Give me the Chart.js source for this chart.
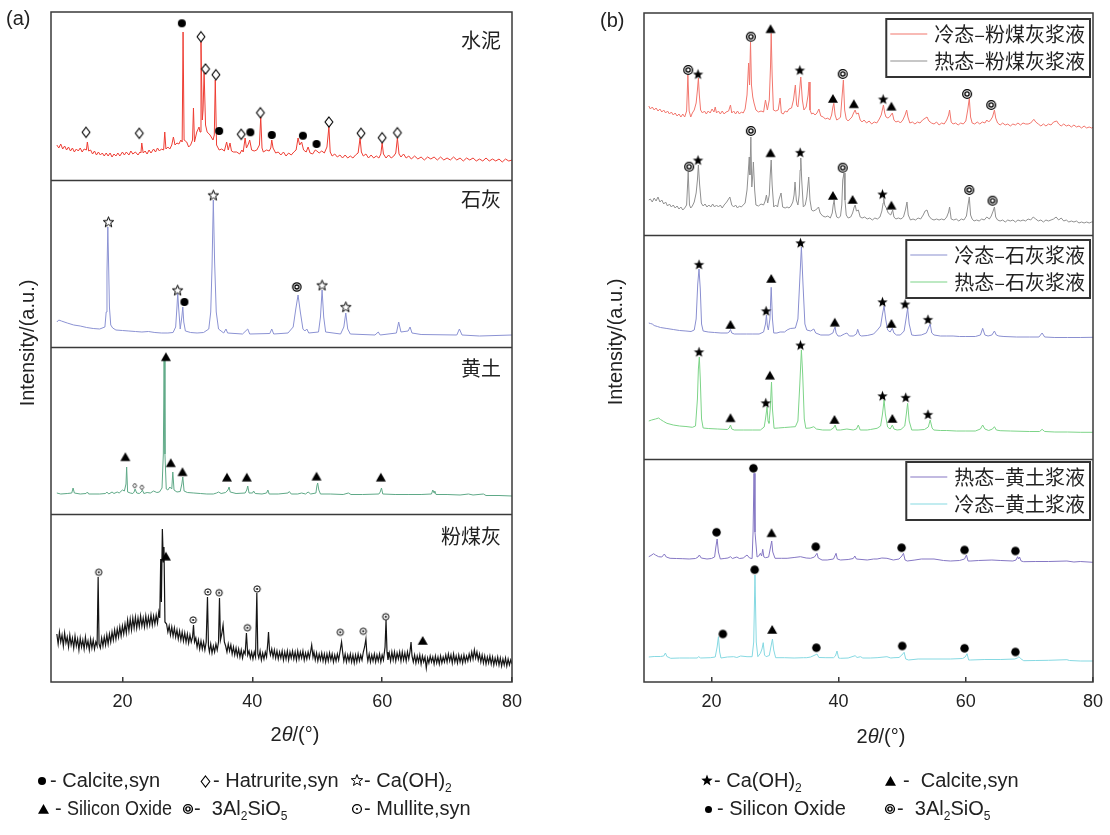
<!DOCTYPE html>
<html>
<head>
<meta charset="utf-8">
<script src="https://cdn.jsdelivr.net/npm/chart.js@4.4.0/dist/chart.umd.min.js"></script>
<style>
  body { margin: 0; width: 1110px; height: 835px; position: relative; background: #fff; overflow: hidden;
         font-family: "Liberation Sans", Arial, sans-serif; color: #222; }
  canvas { position: absolute; top: 0; }
  .t { position: absolute; white-space: nowrap; font-size: 20px; line-height: 20px; }
  .ytitle { position: absolute; white-space: nowrap; font-size: 20px; transform: translate(-50%, -50%) rotate(-90deg); }
  .xtitle { position: absolute; white-space: nowrap; font-size: 20px; transform: translate(-50%, -50%); }
  sub { font-size: 12px; vertical-align: -5px; line-height: 0; }
</style>
</head>
<body>
<canvas id="chartA" width="560" height="835" style="left:0"></canvas>
<canvas id="chartB" width="550" height="835" style="left:560px"></canvas>

<div class="t" style="left:6px;top:8px">(a)</div>
<div class="t" style="left:600px;top:10px">(b)</div>
<div class="ytitle" style="left:27px;top:343px">Intensity/(a.u.)</div>
<div class="ytitle" style="left:615px;top:342px">Intensity/(a.u.)</div>
<div class="xtitle" style="left:295px;top:734px">2<i>θ</i>/(°)</div>
<div class="xtitle" style="left:881px;top:736px">2<i>θ</i>/(°)</div>

<div class="t" style="left:50px;top:770px">- Calcite,syn</div>
<div class="t" style="left:213px;top:770px">- Hatrurite,syn</div>
<div class="t" style="left:364px;top:770px">- Ca(OH)<sub>2</sub></div>
<div class="t" style="left:55px;top:798px">- <span style="display:inline-block;transform:scaleX(0.9);transform-origin:left">Silicon Oxide</span></div>
<div class="t" style="left:194px;top:798px">-&nbsp; 3Al<sub>2</sub>SiO<sub>5</sub></div>
<div class="t" style="left:364px;top:798px">- Mullite,syn</div>

<div class="t" style="left:714px;top:770px">- Ca(OH)<sub>2</sub></div>
<div class="t" style="left:903px;top:770px">-&nbsp; Calcite,syn</div>
<div class="t" style="left:717px;top:798px">- Silicon Oxide</div>
<div class="t" style="left:897px;top:798px">-&nbsp; 3Al<sub>2</sub>SiO<sub>5</sub></div>

<script>
// ---- x axis ticks (2θ, degrees)
const xTicks = [20, 40, 60, 80];

// ---- panel (a): XRD patterns of raw materials, [2θ, intensity a.u.]
const cement = [[9.9,35],[10.2,32],[10.5,36],[10.8,31],[11.1,34],[11.4,30],[11.7,33],[12.0,29],[12.3,32],[12.6,28],[12.9,31],[13.2,29],[13.5,32],[13.8,28],[14.1,31],[14.45,30],[14.6,38],[14.8,29],[15.1,30],[15.4,26],[15.7,29],[16.0,25],[16.3,28],[16.6,25],[16.9,27],[17.2,24],[17.5,27],[17.8,24],[18.1,27],[18.4,23],[18.7,26],[19.0,24],[19.3,27],[19.6,24],[20.0,28],[20.3,25],[20.6,28],[21.0,25],[21.3,29],[21.6,26],[22.0,28],[22.4,25],[22.7,28],[22.85,27],[22.98,37],[23.2,27],[23.5,29],[23.8,26],[24.1,30],[24.4,27],[24.8,31],[25.1,28],[25.4,32],[25.7,29],[26.0,31],[26.35,30],[26.52,48],[26.7,31],[27.0,33],[27.3,31],[27.6,35],[27.85,43],[28.1,35],[28.4,37],[28.7,36],[29.0,40],[29.2,38],[29.34,148],[29.5,40],[29.9,38],[30.2,33],[30.5,35],[30.8,40],[30.94,72],[31.1,38],[31.45,48],[31.8,53],[31.95,48],[32.1,138],[32.3,60],[32.42,70],[32.58,108],[32.8,55],[33.05,48],[33.5,45],[33.95,40],[34.15,45],[34.3,100],[34.5,35],[34.9,30],[35.3,31],[35.7,29],[36.05,38],[36.3,30],[36.57,37],[36.8,29],[37.1,28],[37.6,28],[38.05,26],[38.4,30],[38.6,28],[38.9,42],[39.1,32],[39.4,36],[39.6,40],[39.9,30],[40.3,29],[40.7,30],[41.1,35],[41.3,63],[41.5,32],[41.7,28],[42.2,30],[42.6,29],[42.85,32],[43.0,40],[43.2,32],[43.6,27],[44.0,28],[44.4,25],[44.8,28],[45.2,24],[45.6,27],[46.0,25],[46.4,28],[46.75,30],[47.05,42],[47.3,35],[47.6,38],[47.9,30],[48.3,28],[48.6,33],[48.9,27],[49.3,26],[49.7,30],[49.95,29],[50.3,27],[50.7,29],[51.1,27],[51.5,33],[51.8,53],[52.0,28],[52.3,24],[52.7,26],[53.1,23],[53.5,25],[53.9,22],[54.3,25],[54.7,22],[55.1,24],[55.5,22],[55.9,25],[56.3,27],[56.6,42],[56.8,28],[57.1,24],[57.5,26],[57.9,22],[58.3,25],[58.7,22],[59.1,24],[59.5,22],[59.8,26],[60.0,37],[60.2,26],[60.6,22],[61.0,25],[61.4,22],[61.8,24],[62.1,27],[62.35,42],[62.6,26],[62.9,23],[63.3,26],[63.7,22],[64.1,24],[64.5,21],[65.0,24],[65.5,21],[66.0,23],[66.5,20],[67.0,23],[67.5,21],[68.0,23],[68.5,20],[69.0,23],[69.5,20],[70.0,22],[70.5,20],[71.0,23],[71.5,20],[72.0,22],[72.5,19],[73.0,22],[73.5,20],[74.0,22],[74.5,19],[75.0,21],[75.5,19],[76.0,22],[76.5,19],[77.0,21],[77.5,19],[78.0,21],[78.5,18],[79.0,21],[79.5,19],[80.0,20]];

const lime = [[9.9,25],[10.2,27],[10.6,26],[11.5,24],[12.5,22],[13.5,21],[14.5,19.5],[15.5,18.5],[16.5,18],[17.3,20],[17.5,35],[17.62,75],[17.75,120],[17.88,80],[18.0,40],[18.2,22],[18.5,19],[19.0,17],[20.0,16.5],[21.0,16],[22.0,15.5],[23.0,15],[24.0,15.5],[25.0,14.5],[26.0,14],[27.0,14],[27.8,14.5],[28.2,20],[28.4,40],[28.52,54],[28.65,40],[28.9,18],[29.15,30],[29.3,40],[29.45,25],[29.7,16],[30.5,14.5],[31.5,14],[32.5,14.5],[33.3,18],[33.6,35],[33.8,80],[34.0,147],[34.2,85],[34.45,35],[34.8,18],[35.6,14],[35.95,18],[36.2,14],[38.5,13],[39.3,18],[39.6,13],[42.7,13.5],[43.0,18],[43.3,13],[45.5,14],[46.3,20],[46.7,38],[47.05,52],[47.4,35],[47.8,18],[48.1,16],[48.4,18],[48.7,14],[50.2,15],[50.5,30],[50.75,57],[51.0,30],[51.3,15],[53.6,13],[54.1,20],[54.4,34],[54.7,18],[55.1,13],[58.9,12],[59.4,15],[59.7,12],[62.2,14],[62.55,25],[62.9,15],[64.0,16],[64.3,20],[64.6,14],[66.0,12.5],[71.5,12],[71.9,18],[72.3,12],[75.0,11],[80.0,12]];

const loess = [[9.9,21],[10.5,20],[11.5,20.5],[12.2,21],[12.4,26],[12.6,21],[13.5,20],[14.4,20.5],[14.6,22],[14.8,20],[16.5,20],[17.4,20.5],[17.6,22],[17.9,20],[18.4,22],[18.7,20.5],[19.2,22],[19.5,21],[20.0,24],[20.3,23],[20.55,30],[20.65,47],[20.8,22],[21.2,21],[21.6,20.5],[21.8,22],[21.95,25],[22.2,21],[22.6,20.5],[22.9,22],[23.08,24],[23.3,20.5],[23.8,21.5],[24.3,21],[24.8,23],[25.3,21.5],[25.7,22],[26.1,26],[26.3,60],[26.42,154],[26.55,60],[26.75,25],[27.0,24],[27.3,27],[27.6,25],[27.76,42],[27.95,24],[28.4,22],[28.9,22.5],[29.15,30],[29.3,37],[29.5,23],[30.0,21.5],[31.0,21],[32.0,20.5],[33.0,20],[34.0,20],[34.5,21],[34.8,22],[35.2,20.5],[35.9,21.5],[36.25,24],[36.43,27],[36.6,22],[37.5,20.5],[38.9,21],[39.15,24],[39.3,28],[39.5,21],[40.05,21],[40.2,23],[40.45,20.5],[41.5,20],[42.2,21],[42.4,24],[42.6,20],[44.0,20],[45.5,21],[45.7,22.5],[46.0,20],[47.0,20],[47.6,21],[48.2,20],[48.6,22],[49.0,20],[49.8,21],[49.95,28],[50.07,31],[50.25,24],[50.5,20],[52.0,20],[54.0,19.5],[54.8,21],[55.2,19.5],[57.0,19.5],[59.5,20],[59.7,22],[59.9,26],[60.1,20],[62.0,19.5],[64.0,19.5],[66.0,19.5],[67.6,20],[67.8,24],[68.0,21],[68.1,23],[68.3,19.5],[70.0,19.5],[72.0,19],[73.3,20],[74.0,19],[75.6,20],[76.0,18.5],[78.0,18.5],[80.0,18]];

const flyAsh = [[9.9,48],[10.1,38],[10.3,50],[10.5,40],[10.7,47],[10.9,36],[11.1,49],[11.3,39],[11.5,45],[11.7,35],[11.9,47],[12.1,37],[12.3,44],[12.5,34],[12.7,46],[12.9,36],[13.1,43],[13.3,32],[13.5,44],[13.7,35],[13.9,42],[14.1,33],[14.3,45],[14.5,35],[14.7,41],[14.9,32],[15.1,43],[15.3,34],[15.5,42],[15.7,33],[15.9,40],[16.1,36],[16.26,105],[16.4,38],[16.6,34],[16.8,44],[17.0,36],[17.2,45],[17.4,37],[17.6,47],[17.8,38],[18.0,48],[18.2,40],[18.4,50],[18.6,42],[18.8,52],[19.0,43],[19.2,53],[19.4,45],[19.6,55],[19.8,46],[20.0,56],[20.2,48],[20.4,58],[20.6,49],[20.8,62],[21.0,51],[21.2,63],[21.4,52],[21.6,64],[21.8,54],[22.0,65],[22.2,54],[22.4,64],[22.6,55],[22.8,66],[23.0,56],[23.2,64],[23.4,55],[23.6,66],[23.8,56],[24.0,65],[24.2,57],[24.4,67],[24.6,57],[24.8,66],[25.0,58],[25.2,67],[25.4,59],[25.6,70],[25.75,64],[25.9,123],[26.0,80],[26.15,153],[26.3,120],[26.4,135],[26.55,60],[26.8,58],[27.0,50],[27.2,56],[27.4,47],[27.6,55],[27.8,46],[28.0,54],[28.2,45],[28.4,52],[28.6,43],[28.8,51],[29.0,42],[29.2,50],[29.4,41],[29.6,49],[29.8,40],[30.0,48],[30.2,39],[30.4,47],[30.6,40],[30.8,45],[30.95,57],[31.1,40],[31.3,44],[31.5,35],[31.7,42],[31.9,33],[32.1,41],[32.3,33],[32.5,40],[32.7,32],[32.9,40],[33.1,85],[33.25,36],[33.4,30],[33.6,38],[33.8,29],[34.0,36],[34.2,30],[34.4,38],[34.6,32],[34.8,40],[34.95,84],[35.1,42],[35.3,48],[35.5,57],[35.7,40],[35.9,36],[36.1,30],[36.3,38],[36.5,31],[36.7,37],[36.9,28],[37.1,35],[37.3,27],[37.5,34],[37.7,26],[37.9,33],[38.1,25],[38.3,32],[38.5,24],[38.7,31],[38.9,28],[39.1,49],[39.3,27],[39.5,31],[39.7,24],[39.9,30],[40.1,23],[40.3,30],[40.5,25],[40.7,89],[40.85,28],[41.0,24],[41.2,31],[41.4,22],[41.6,29],[41.8,23],[42.0,30],[42.2,25],[42.4,40],[42.5,50],[42.65,32],[42.8,27],[43.0,33],[43.2,25],[43.4,32],[43.6,24],[43.8,31],[44.0,23],[44.2,30],[44.4,24],[44.6,31],[44.8,22],[45.0,30],[45.2,23],[45.4,31],[45.6,22],[45.8,30],[46.0,24],[46.2,31],[46.4,23],[46.6,30],[46.8,22],[47.0,31],[47.2,23],[47.4,30],[47.6,24],[47.8,31],[48.0,22],[48.2,29],[48.4,23],[48.6,30],[48.8,24],[49.0,31],[49.15,37],[49.35,25],[49.5,30],[49.7,22],[49.9,29],[50.1,21],[50.3,28],[50.5,22],[50.7,29],[50.9,21],[51.1,28],[51.3,20],[51.5,28],[51.7,21],[51.9,29],[52.1,22],[52.3,28],[52.5,20],[52.7,27],[52.9,21],[53.1,28],[53.3,22],[53.5,30],[53.75,40],[53.95,28],[54.1,21],[54.3,28],[54.5,20],[54.7,27],[54.9,21],[55.1,28],[55.3,20],[55.5,27],[55.7,19],[55.9,27],[56.1,20],[56.3,28],[56.5,21],[56.7,27],[56.9,22],[57.1,30],[57.3,35],[57.5,43],[57.65,28],[57.8,21],[58.0,28],[58.2,20],[58.4,27],[58.6,21],[58.8,28],[59.0,20],[59.2,27],[59.4,21],[59.6,28],[59.8,20],[60.0,27],[60.2,22],[60.45,35],[60.6,62],[60.75,30],[60.9,22],[61.1,29],[61.3,21],[61.5,30],[61.7,22],[61.9,30],[62.1,21],[62.3,29],[62.5,23],[62.7,30],[62.9,21],[63.1,30],[63.3,22],[63.5,29],[63.7,21],[63.9,30],[64.1,23],[64.3,31],[64.45,40],[64.6,26],[64.8,20],[65.0,27],[65.2,19],[65.4,26],[65.6,20],[65.8,27],[66.0,18],[66.2,26],[66.4,20],[66.6,25],[66.8,14],[67.0,24],[67.2,19],[67.4,26],[67.6,20],[67.8,25],[68.0,18],[68.2,26],[68.4,19],[68.6,25],[68.8,18],[69.0,26],[69.2,19],[69.4,25],[69.6,20],[69.8,27],[70.0,20],[70.2,28],[70.4,21],[70.6,27],[70.8,19],[71.0,28],[71.2,20],[71.4,26],[71.6,19],[71.8,27],[72.0,20],[72.2,26],[72.4,19],[72.6,27],[72.8,20],[73.0,26],[73.2,21],[73.4,28],[73.6,22],[73.8,30],[74.0,23],[74.2,32],[74.4,24],[74.6,30],[74.8,22],[75.0,28],[75.2,20],[75.4,27],[75.6,19],[75.8,26],[76.0,18],[76.2,25],[76.4,19],[76.6,26],[76.8,18],[77.0,25],[77.2,17],[77.4,24],[77.6,18],[77.8,25],[78.0,17],[78.2,24],[78.4,16],[78.6,23],[78.8,17],[79.0,24],[79.2,16],[79.4,23],[79.6,17],[79.8,22],[80.0,18]];

// ---- panel (a): phase marks, [2θ, intensity a.u.]
const cementCalcite = [[29.15,156.7],[34.9,49],[39.7,47.7],[43.0,45],[47.8,44.3],[49.9,36]];
const cementHatrurite = [[14.4,47.7],[22.6,46.7],[32.1,143.3],[32.8,111],[34.4,105.3],[38.3,45.7],[41.25,67.3],[51.8,58],[56.75,46.7],[60.0,42.3],[62.35,47.3]];
const limeCaOH = [[17.85,125.3],[28.5,57],[34.0,152],[50.75,62],[54.4,40.3]];
const limeCalcite = [[29.55,45]];
const limeAl2SiO5 = [[46.85,60]];
const loessSiO2 = [[20.45,56.7],[26.7,156.7],[27.45,50.7],[29.25,41.7],[36.1,36.3],[39.15,36.3],[49.9,37.3],[59.8,36.3]];
const loessHatrurite = [[21.9,28.3],[23.0,26.7]];
const flyAshMullite = [[16.35,109.7],[30.9,62],[33.15,90],[34.9,89.3],[39.25,54.3],[40.75,93],[53.55,49.7],[57.1,50.7],[60.55,65.3]];
const flyAshSiO2 = [[26.7,125.3],[66.25,41]];

// ---- panel (b): slurry patterns, [2θ, intensity a.u.]
const coldFlyAsh = [[10.15,129],[10.4,126],[10.7,128],[11.0,125],[11.3,127],[11.6,124],[11.9,126],[12.2,123],[12.5,125],[12.8,122],[13.1,124],[13.4,121],[13.7,123],[14.0,120],[14.3,122],[14.6,119],[14.9,121],[15.2,118],[15.5,121],[15.8,118],[16.1,124],[16.3,160],[16.5,124],[16.75,118],[17.0,122],[17.3,125],[17.6,132],[17.8,145],[17.95,157],[18.1,140],[18.3,125],[18.6,122],[18.9,124],[19.2,121],[19.5,124],[19.8,122],[20.1,126],[20.4,123],[20.6,128],[20.8,122],[21.1,124],[21.4,121],[21.7,124],[22.0,121],[22.3,123],[22.7,124],[23.0,130],[23.2,122],[23.5,124],[23.8,121],[24.1,124],[24.4,121],[24.7,123],[25.0,122],[25.3,126],[25.6,140],[25.85,172],[26.0,150],[26.15,193],[26.3,150],[26.5,138],[26.7,132],[27.0,125],[27.4,123],[27.8,124],[28.2,123],[28.5,135],[28.8,125],[29.1,135],[29.3,170],[29.4,201.7],[29.55,160],[29.75,125],[30.1,124],[30.5,125],[30.8,137],[31.0,122],[31.3,121],[31.6,124],[31.9,123],[32.2,126],[32.6,127],[32.9,135],[33.2,150],[33.4,130],[33.6,128],[33.8,140],[34.05,158],[34.3,135],[34.55,125],[34.9,128],[35.2,140],[35.35,153],[35.5,125],[35.75,121],[36.0,122],[36.3,120],[36.6,122],[36.9,126],[37.2,119],[37.6,118],[37.9,116],[38.3,117],[38.6,115],[38.9,120],[39.1,128],[39.25,131.7],[39.45,120],[39.7,115],[40.0,116],[40.3,118],[40.5,135],[40.75,155],[40.95,125],[41.2,116],[41.5,114],[41.8,116],[42.1,118],[42.35,122],[42.6,125],[42.8,121],[43.1,122],[43.4,115],[43.7,113],[44.0,115],[44.4,112],[44.8,114],[45.2,111],[45.6,113],[46.0,112],[46.4,116],[46.7,120],[47.05,130],[47.25,122],[47.45,118],[47.75,117],[48.0,118],[48.45,122],[48.7,115],[49.0,113],[49.4,114],[49.7,112],[50.1,115],[50.45,120],[50.7,125],[50.9,118],[51.2,112],[51.6,113],[52.0,111],[52.4,113],[52.8,112],[53.2,115],[53.9,118],[54.2,114],[54.6,112],[55.0,111],[55.4,113],[55.8,110],[56.2,112],[56.6,111],[57.0,115],[57.3,120],[57.45,125],[57.7,113],[58.0,111],[58.4,112],[58.8,110],[59.2,112],[59.6,111],[60.0,114],[60.3,125],[60.55,136.7],[60.75,118],[61.0,112],[61.4,111],[61.8,113],[62.2,111],[62.6,113],[63.0,112],[63.3,115],[63.6,113],[63.9,115],[64.2,118],[64.5,125],[64.7,117],[65.0,112],[65.4,110],[65.8,112],[66.2,110],[66.6,111],[67.0,109],[67.4,111],[67.8,110],[68.2,112],[68.6,110],[69.0,112],[69.4,111],[69.8,111],[70.2,112],[70.7,115.7],[71.0,113],[71.4,111],[71.8,109],[72.2,111],[72.6,109],[73.0,111],[73.4,110],[73.8,113],[74.3,114],[74.6,111],[75.0,109],[75.4,111],[75.8,109],[76.2,110],[76.6,108],[77.0,110],[77.4,108],[77.8,109],[78.2,107],[78.6,109],[79.0,107],[79.4,108],[79.8,107],[80.0,107.7]];

const hotFlyAsh = [[10.15,35],[10.4,36],[10.7,33],[11.0,37],[11.3,34],[11.6,38],[11.9,33],[12.2,35],[12.5,31],[12.8,33],[13.1,29],[13.4,31],[13.7,28],[14.0,30],[14.3,27],[14.6,29],[14.9,26],[15.2,28],[15.5,25],[15.8,27],[16.1,30],[16.35,63],[16.55,30],[16.75,27],[17.0,29],[17.3,33],[17.6,42],[17.8,55],[17.95,70],[18.15,50],[18.4,32],[18.7,29],[19.0,31],[19.3,28],[19.6,30],[19.9,28],[20.2,31],[20.5,28],[20.8,30],[21.1,28],[21.4,30],[21.7,27],[22.0,30],[22.4,33],[22.9,38],[23.2,30],[23.5,28],[23.8,30],[24.1,27],[24.4,29],[24.7,28],[25.0,30],[25.3,32],[25.6,45],[25.95,78],[26.05,60],[26.2,98],[26.35,48],[26.5,60],[26.6,73],[26.8,45],[27.0,30],[27.4,29],[27.8,31],[28.2,30],[28.45,34],[28.65,40],[28.85,32],[29.1,40],[29.25,60],[29.4,75],[29.55,50],[29.8,28],[30.1,30],[30.4,28],[30.6,35],[30.95,42],[31.2,28],[31.6,27],[31.9,28],[32.2,27],[32.5,29],[32.8,33],[33.0,40],[33.15,53],[33.35,35],[33.6,30],[33.8,40],[33.95,65],[34.05,77],[34.2,55],[34.45,28],[34.75,30],[35.0,38],[35.3,58],[35.5,35],[35.75,25],[36.0,24],[36.4,25],[36.85,28],[37.1,22],[37.5,19],[37.9,18],[38.3,19],[38.7,17],[39.0,22],[39.15,30],[39.3,35],[39.45,25],[39.7,18],[40.0,17],[40.3,19],[40.5,30],[40.65,55],[40.85,62],[41.0,35],[41.2,20],[41.5,17],[41.9,18],[42.2,22],[42.45,28],[42.6,30],[42.8,24],[43.1,25],[43.4,18],[43.7,17],[44.1,18],[44.5,16],[44.9,17],[45.3,15],[45.7,17],[46.1,16],[46.5,18],[46.8,24],[47.0,32],[47.1,36.7],[47.25,30],[47.5,27],[47.8,22],[48.2,20],[48.5,25],[48.7,18],[49.0,16],[49.4,17],[49.8,16],[50.2,18],[50.5,25],[50.75,33],[50.95,20],[51.3,15],[51.7,16],[52.1,15],[52.5,17],[52.9,16],[53.3,20],[53.6,24],[53.9,25],[54.2,19],[54.6,16],[55.0,15],[55.4,16],[55.8,15],[56.2,16],[56.6,15],[57.0,18],[57.3,23],[57.45,28],[57.7,16],[58.1,15],[58.5,16],[58.9,14],[59.3,16],[59.7,15],[60.1,19],[60.35,30],[60.55,38],[60.75,20],[61.0,16],[61.3,14],[61.7,15],[62.1,14],[62.5,16],[62.9,15],[63.3,18],[63.7,16],[64.0,19],[64.3,24],[64.5,28],[64.7,18],[65.0,15],[65.4,14],[65.8,15],[66.2,13],[66.6,15],[67.0,14],[67.4,15],[67.8,13],[68.2,15],[68.6,14],[69.0,15],[69.4,14],[69.8,16],[70.2,15],[70.6,18],[71.0,16],[71.4,14],[71.8,15],[72.2,13],[72.6,15],[73.0,14],[73.4,15],[73.8,16],[74.2,18],[74.6,15],[75.0,17],[75.4,14],[75.8,15],[76.2,13],[76.6,14],[77.0,13],[77.4,14],[77.8,12],[78.2,13],[78.6,12],[79.0,13],[79.4,12],[79.8,13],[80.0,13]];

const coldLime = [[10.15,136],[10.4,135.5],[10.7,135],[11.0,133.5],[11.5,132.5],[12.0,131.5],[13.0,130.5],[14.0,129.5],[15.0,128.5],[16.0,128],[16.8,127.5],[17.3,129],[17.6,140],[17.85,175],[18.05,190],[18.25,170],[18.45,135],[18.7,128],[19.5,127],[20.5,126.5],[21.5,126],[22.5,126],[22.8,127],[23.0,129.5],[23.2,126],[23.6,125],[24.5,125],[25.5,125],[26.5,125],[27.5,125],[28.2,127],[28.5,135],[28.65,144],[28.8,133],[28.95,129],[29.2,140],[29.4,171.7],[29.6,140],[29.8,126],[30.3,126],[30.8,127],[31.5,127],[31.9,129],[32.4,130.5],[33.2,131],[33.6,140],[33.9,180],[34.15,212],[34.4,175],[34.7,135],[35.0,129],[35.6,128],[36.1,130],[36.4,126],[37.2,124],[38.5,124],[39.1,126],[39.3,130],[39.45,132],[39.6,126],[39.9,123],[40.3,123],[40.9,125],[41.3,126],[41.7,123],[42.3,123],[42.8,125],[43.0,129.7],[43.3,124],[43.6,123],[44.5,123.5],[45.5,125],[46.1,129],[46.6,133],[46.9,145],[47.15,153],[47.4,140],[47.7,129],[48.1,127],[48.45,130.7],[48.7,126],[49.1,124],[49.7,124],[50.3,128],[50.6,140],[50.85,150.7],[51.1,135],[51.5,124],[52.0,123.5],[53.0,124],[53.8,126],[54.4,135],[54.65,126],[55.0,124],[56.0,123],[57.0,123],[58.0,123],[59.0,122.5],[60.0,122.5],[61.5,122.5],[62.3,124],[62.65,130.7],[63.0,124],[63.5,123],[64.1,124],[64.5,128],[64.8,124],[65.2,123],[66.0,122.5],[68.0,122],[70.0,122],[71.5,122],[72.0,126],[72.4,122],[74.0,121.5],[76.0,121.5],[78.0,121.5],[80.0,121.7]];

const hotLime = [[10.15,38],[10.6,39],[11.2,40],[11.7,41],[12.0,39.5],[12.5,37.5],[13.0,35.7],[14.0,34],[15.0,33],[16.0,32.5],[17.0,31.7],[17.5,33],[17.8,60],[17.95,90],[18.1,102],[18.25,80],[18.45,40],[18.7,31],[19.5,30.5],[21.0,30],[22.5,29.5],[22.8,31],[23.0,34],[23.2,30],[23.6,29],[25.0,29],[26.5,29],[27.7,29],[28.3,32],[28.5,40],[28.75,52],[28.9,38],[29.05,35.7],[29.25,50],[29.45,77],[29.6,50],[29.85,30.7],[30.5,31],[31.5,31.5],[32.5,32],[33.2,32.3],[33.6,38],[33.9,75],[34.15,109],[34.35,85],[34.6,40],[34.85,30.7],[35.5,31],[36.1,32.3],[36.5,30],[37.5,29],[38.7,29],[39.2,31],[39.45,34],[39.7,29],[40.3,29],[41.3,30],[42.3,29],[42.8,30],[43.1,34],[43.4,29],[44.5,29],[45.0,29.5],[46.05,30.7],[46.6,33],[46.9,45],[47.15,59],[47.35,45],[47.7,32],[48.1,30],[48.45,34],[48.7,30],[49.2,29],[49.8,29.5],[50.4,33],[50.65,45],[50.85,55.7],[51.1,38],[51.5,29],[52.5,29],[53.5,29.5],[54.1,32],[54.4,39],[54.7,31],[54.96,29],[56.0,28.5],[57.0,28.5],[58.5,28],[60.0,28],[61.5,28],[62.3,30],[62.65,34],[63.0,30],[63.6,28.5],[64.2,30],[64.5,32.3],[64.8,29],[65.4,28.3],[67.0,28],[70.0,27.5],[71.6,27.5],[72.0,29.7],[72.4,27.5],[74.0,27],[76.0,27],[78.0,26.7],[80.0,26.7]];

const hotLoess = [[10.15,125.3],[10.5,126.5],[10.9,128.3],[11.2,127],[11.7,125.3],[12.2,125],[12.6,128],[12.9,125],[13.5,123.7],[14.5,123.5],[15.5,123.3],[16.5,123],[17.5,123.5],[17.9,125],[18.1,127],[18.4,124],[19.3,123],[20.0,123.5],[20.5,125],[20.7,135],[20.9,143],[21.1,130],[21.4,123],[22.0,123.5],[22.6,124],[23.0,125.3],[23.3,123.5],[24.0,125],[24.4,123.5],[25.0,124],[25.6,127],[26.0,124],[26.4,123.5],[26.55,150],[26.7,208.7],[26.85,150],[27.18,125],[27.45,126],[27.7,128.7],[27.9,126],[28.07,132.7],[28.25,125],[28.5,124.3],[29.0,125],[29.3,135],[29.48,141],[29.65,130],[30.0,123.7],[31.0,123.7],[31.9,123.7],[33.0,124.5],[34.0,125.3],[34.9,124],[35.6,123.7],[36.2,125],[36.6,128.7],[36.8,124],[37.4,122],[38.2,122],[39.2,123],[39.6,128.7],[39.8,123],[40.3,122],[41.5,122.5],[42.3,123.5],[42.55,126],[42.8,123],[44.5,122],[45.5,123],[46.05,123],[46.8,124],[47.6,123.7],[48.6,122],[49.5,123],[49.95,126],[50.2,128.7],[50.45,122],[50.8,121],[52.0,122],[53.0,123],[55.0,123],[56.5,121.5],[57.6,121],[59.0,121.5],[59.8,123],[60.1,127],[60.35,121],[60.8,121],[62.0,121.5],[64.1,122],[65.5,121.5],[67.4,121],[67.9,122],[68.15,125.3],[68.3,123],[68.45,125],[68.7,121],[69.1,120.3],[71.0,120.5],[73.0,120.5],[75.9,121],[77.0,120],[78.0,120.5],[80.0,119.7]];

const coldLoess = [[10.15,25],[11.0,25.5],[12.0,25.5],[12.5,26],[12.77,29],[13.0,25.5],[13.6,23.7],[15.0,24],[16.5,24],[17.75,24],[18.0,25.3],[18.3,24],[19.84,24.3],[20.6,25],[20.9,35],[21.1,45.3],[21.3,30],[21.5,24],[22.5,25],[23.5,25.3],[24.0,24.5],[24.6,26],[25.6,25.3],[26.4,25.3],[26.65,40],[26.85,107],[27.05,40],[27.3,25.3],[27.7,28.7],[27.95,33],[28.15,39.3],[28.35,27],[28.6,25.3],[29.1,26.5],[29.35,35],[29.6,43],[29.8,32],[30.1,24.3],[31.5,24.3],[33.0,24],[34.5,24.3],[35.0,24.3],[35.6,25],[36.3,27],[36.6,28],[36.9,24.5],[38.0,24.3],[39.2,24.3],[39.5,26],[39.75,31],[40.0,24],[40.3,23.7],[41.5,24],[42.6,26.3],[42.9,24.5],[43.45,25.3],[43.8,24],[45.0,24],[46.05,24.3],[47.6,25.3],[48.2,24],[48.7,24.3],[49.5,24.5],[49.95,27],[50.3,29.7],[50.55,23],[51.0,22],[52.5,23],[55.0,23],[57.6,23],[59.5,23.5],[59.9,25],[60.2,28.3],[60.45,22],[60.7,22],[63.0,22.5],[65.5,22.5],[67.7,23],[68.1,24],[68.37,25.3],[68.6,23.5],[69.1,21.3],[71.0,21.5],[73.0,21.7],[75.9,22.3],[76.3,21.5],[78.0,21],[80.0,21]];

// ---- panel (b): phase marks, [2θ, intensity a.u.]
const coldFlyAshAl2SiO5 = [[16.35,165],[26.2,198.3],[40.65,161],[60.2,141],[64.0,130]];
const coldFlyAshCaOH = [[17.9,161],[33.9,165],[47.0,136]];
const coldFlyAshCalcite = [[29.3,205.7],[39.1,136],[42.4,130.7],[48.3,128.3]];
const hotFlyAshAl2SiO5 = [[16.5,68.3],[26.2,104],[40.65,67.3],[60.55,45],[64.2,34.3]];
const hotFlyAshCaOH = [[17.9,75],[33.95,82.7],[46.9,41]];
const hotFlyAshCalcite = [[29.3,81.7],[39.1,39],[42.2,35],[48.3,29.3]];
const coldLimeCaOH = [[18.05,194.7],[28.6,148.3],[34.0,216.3],[46.9,157.3],[50.45,155],[54.05,139.7]];
const coldLimeCalcite = [[23.0,134],[29.4,180],[39.4,136.3],[48.3,135]];
const hotLimeCaOH = [[18.05,107.3],[28.55,56.3],[34.0,114],[46.9,63.3],[50.55,61.7],[54.05,44.7]];
const hotLimeCalcite = [[23.0,40.7],[29.2,83.3],[39.35,39],[48.45,40]];
const hotLoessSiO2 = [[20.8,149.7],[26.6,213.7],[36.4,135.3],[49.9,134.3],[59.8,132],[67.8,131]];
const hotLoessCalcite = [[29.45,148.7]];
const coldLoessSiO2 = [[21.8,48],[26.8,112.3],[36.5,34.3],[50.0,36],[59.8,33.7],[67.8,30]];
const coldLoessCalcite = [[29.55,52]];

// ---- labels
const labelsA = ['水泥', '石灰', '黄土', '粉煤灰'];
const legendB = [
  [['冷态–粉煤灰浆液', '#f2766d'], ['热态–粉煤灰浆液', '#909090']],
  [['冷态–石灰浆液', '#8a8fd0'], ['热态–石灰浆液', '#7dd488']],
  [['热态–黄土浆液', '#8577c4'], ['冷态–黄土浆液', '#86d9e2']]
];

// marker glyphs drawn once, used as point styles
function mark(kind, size, lw) {
  const n = Math.ceil(size) + 4;
  const c = document.createElement('canvas');
  c.width = c.height = n;
  const g = c.getContext('2d');
  const m = n / 2, r = size / 2;
  g.fillStyle = '#000'; g.strokeStyle = '#000'; g.lineWidth = lw || 1.2;
  g.beginPath();
  if (kind === 'dot') { g.arc(m, m, r, 0, 2 * Math.PI); g.fill(); }
  else if (kind === 'tri') { g.moveTo(m, m - r); g.lineTo(m + r, m + r * 0.75); g.lineTo(m - r, m + r * 0.75); g.closePath(); g.fill(); }
  else if (kind === 'diamond') {
    g.moveTo(m, m - r); g.lineTo(m + r * 0.78, m); g.lineTo(m, m + r); g.lineTo(m - r * 0.78, m); g.closePath();
    g.fillStyle = '#fff'; g.fill(); g.stroke();
  } else if (kind === 'star' || kind === 'openStar') {
    for (let i = 0; i < 10; i++) {
      const rr = i % 2 ? r * 0.42 : r, t = -Math.PI / 2 + i * Math.PI / 5;
      g.lineTo(m + rr * Math.cos(t), m + 0.6 + rr * Math.sin(t));
    }
    g.closePath();
    if (kind === 'star') g.fill(); else { g.fillStyle = '#fff'; g.fill(); g.stroke(); }
  } else if (kind === 'ring2') {
    g.arc(m, m, r - 0.6, 0, 2 * Math.PI); g.fillStyle = '#fff'; g.fill(); g.stroke();
    g.beginPath(); g.arc(m, m, r * 0.42, 0, 2 * Math.PI); g.stroke();
  } else if (kind === 'ringDot') {
    g.arc(m, m, r - 0.6, 0, 2 * Math.PI); g.fillStyle = '#fff'; g.fill(); g.stroke();
    g.beginPath(); g.fillStyle = '#000'; g.arc(m, m, 1, 0, 2 * Math.PI); g.fill();
  }
  return c;
}

const M = {
  dotA: mark('dot', 8), diamondA: mark('diamond', 10, 1.1), smallDiamond: mark('diamond', 5, 0.8),
  openStar: mark('openStar', 11, 1), ring2A: mark('ring2', 9.5, 1.3), ringDot: mark('ringDot', 7.5, 1),
  triA: mark('tri', 10), star: mark('star', 11), triB: mark('tri', 10), dotB: mark('dot', 8.5), ring2B: mark('ring2', 10, 1.3)
};

function trace(points, base, color, width) {
  return {
    data: points.map(p => ({ x: p[0], y: p[1] + base })),
    borderColor: color, borderWidth: width || 1, pointRadius: 0, order: 1
  };
}
function marks(points, base, img) {
  return {
    data: points.map(p => ({ x: p[0], y: p[1] + base })),
    showLine: false, pointStyle: img, pointRadius: 5, order: 0
  };
}

// frame, section dividers, section labels and in-panel legends
function framePlugin(cfg) {
  return {
    id: 'frame',
    afterDatasetsDraw(chart) {
      const { ctx, chartArea: a } = chart;
      const y = chart.scales.y;
      ctx.save();
      ctx.strokeStyle = '#3a3a3a';
      ctx.lineWidth = 1.5;
      ctx.strokeRect(a.left, a.top, a.right - a.left, a.bottom - a.top);
      cfg.splits.forEach(v => {
        const py = Math.round(y.getPixelForValue(v)) + 0.5;
        ctx.beginPath(); ctx.moveTo(a.left, py); ctx.lineTo(a.right, py); ctx.stroke();
      });
      ctx.fillStyle = '#222';
      ctx.font = '20px "Noto Sans CJK SC"';
      (cfg.labels || []).forEach((t, i) => {
        ctx.textAlign = 'right'; ctx.textBaseline = 'middle';
        ctx.fillText(t, a.right - 11, y.getPixelForValue(cfg.tops[i]) + cfg.labelDy[i]);
      });
      (cfg.legends || []).forEach((items, i) => {
        const top = y.getPixelForValue(cfg.tops[i]) + cfg.legendDy[i];
        const tw = Math.max(...items.map(it => ctx.measureText(it[0]).width));
        const w = 48 + tw + 5, h = 58, left = a.right - 3 - w;
        ctx.strokeStyle = '#333'; ctx.lineWidth = 2;
        ctx.strokeRect(left, top, w, h);
        items.forEach((it, k) => {
          const cy = top + 15 + k * 27;
          ctx.strokeStyle = it[1]; ctx.lineWidth = 1.2;
          ctx.beginPath(); ctx.moveTo(left + 4, cy); ctx.lineTo(left + 41, cy); ctx.stroke();
          ctx.textAlign = 'left'; ctx.textBaseline = 'middle'; ctx.fillStyle = '#222';
          ctx.fillText(it[0], left + 48, cy);
        });
      });
      ctx.restore();
    }
  };
}

function xScale(min) {
  return {
    type: 'linear', min: min, max: 80,
    afterBuildTicks: s => { s.ticks = xTicks.map(v => ({ value: v })); },
    afterFit: s => { s.height = 153; s.paddingLeft = 0; s.paddingRight = 0; },
    ticks: { font: { size: 18 }, color: '#222', padding: 14, maxRotation: 0, autoSkip: false },
    grid: { drawOnChartArea: false, drawTicks: true, tickLength: -5, color: '#3a3a3a', lineWidth: 1.5 },
    border: { display: false }
  };
}

function build(id, datasets, min, ymax, padding, cfg) {
  return new Chart(document.getElementById(id), {
    type: 'line',
    data: { datasets },
    options: {
      responsive: false, animation: false, events: [],
      layout: { padding },
      plugins: { legend: { display: false }, tooltip: { enabled: false } },
      scales: { x: xScale(min), y: { display: false, min: 0, max: ymax } }
    },
    plugins: [framePlugin(cfg)]
  });
}

Chart.defaults.font.family = '"Liberation Sans", Arial, sans-serif';

// panel (a): sections stacked bottom-up (fly ash, loess, lime, cement)
build('chartA', [
  marks(cementCalcite, 502, M.dotA), marks(cementHatrurite, 502, M.diamondA),
  marks(limeCaOH, 335, M.openStar), marks(limeCalcite, 335, M.dotA), marks(limeAl2SiO5, 335, M.ring2A),
  marks(loessSiO2, 168, M.triA), marks(loessHatrurite, 168, M.smallDiamond),
  marks(flyAshMullite, 0, M.ringDot), marks(flyAshSiO2, 0, M.triA),
  trace(cement, 502, '#ee3d33'), trace(lime, 335, '#8b92d3'),
  trace(loess, 168, '#5fa987'), trace(flyAsh, 0, '#151515', 1.2)
], 9.0, 670, { left: 51, right: 48, top: 12, bottom: 0 }, {
  splits: [168, 335, 502], tops: [670, 502, 335, 168], labels: labelsA, labelDy: [28, 19, 21, 22.5]
});

// panel (b): sections stacked bottom-up (loess, lime, fly ash slurries)
build('chartB', [
  marks(coldFlyAshAl2SiO5, 447, M.ring2B), marks(coldFlyAshCaOH, 447, M.star), marks(coldFlyAshCalcite, 447, M.triB),
  marks(hotFlyAshAl2SiO5, 447, M.ring2B), marks(hotFlyAshCaOH, 447, M.star), marks(hotFlyAshCalcite, 447, M.triB),
  marks(coldLimeCaOH, 223, M.star), marks(coldLimeCalcite, 223, M.triB),
  marks(hotLimeCaOH, 223, M.star), marks(hotLimeCalcite, 223, M.triB),
  marks(hotLoessSiO2, 0, M.dotB), marks(hotLoessCalcite, 0, M.triB),
  marks(coldLoessSiO2, 0, M.dotB), marks(coldLoessCalcite, 0, M.triB),
  trace(coldFlyAsh, 447, legendB[0][0][1]), trace(hotFlyAsh, 447, legendB[0][1][1]),
  trace(coldLime, 223, legendB[1][0][1]), trace(hotLime, 223, legendB[1][1][1]),
  trace(hotLoess, 0, legendB[2][0][1]), trace(coldLoess, 0, legendB[2][1][1])
], 9.4, 669, { left: 84, right: 17, top: 13, bottom: 0 }, {
  splits: [223, 447], tops: [669, 447, 223], legends: legendB, legendDy: [6, 5, 3]
});

// symbols of the phase key below each panel
[
  ['dot', 8, 41.5, 781], ['diamond', 11, 205, 781, 1.1], ['openStar', 12, 357, 780, 1],
  ['tri', 11, 43, 809], ['ring2', 10, 187.5, 809, 1.4], ['ringDot', 10, 357, 809, 1.3],
  ['star', 12, 707, 780], ['tri', 11, 890, 781], ['dot', 7, 708.5, 809], ['ring2', 10, 890, 809, 1.4]
].forEach(([k, s, cx, cy, lw]) => {
  const c = mark(k, s, lw);
  c.style.left = (cx - c.width / 2) + 'px';
  c.style.top = (cy - c.height / 2) + 'px';
  document.body.appendChild(c);
});
</script>
</body>
</html>
